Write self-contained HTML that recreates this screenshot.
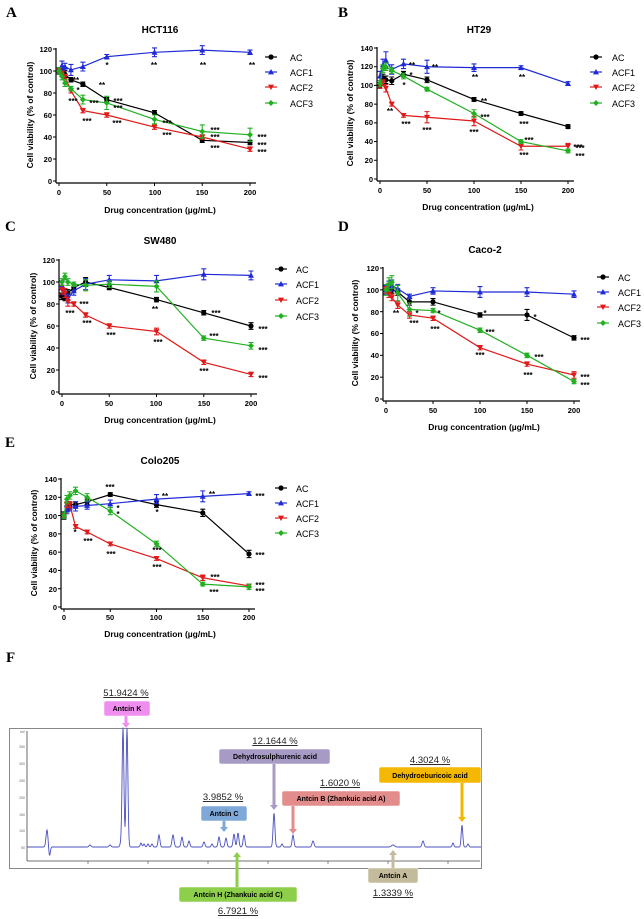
<!DOCTYPE html>
<html><head><meta charset="utf-8">
<style>
html,body{margin:0;padding:0;background:#fff;}
svg{display:block;font-family:"Liberation Sans",sans-serif;}
.t{font-weight:bold;font-size:10px;text-anchor:middle;}
.tk{font-weight:bold;font-size:7.5px;}
.ax{font-weight:bold;font-size:8.5px;text-anchor:middle;}
.lg{font-size:9px;}
.st{font-size:8px;font-weight:bold;}
.pl{font-family:"Liberation Serif",serif;font-weight:bold;font-size:15px;}
.bx{font-weight:bold;font-size:7px;text-anchor:middle;}
.pc{font-size:9.5px;text-anchor:middle;fill:#222;text-decoration:underline;}
</style></head><body>
<svg id="s" width="644" height="919" viewBox="0 0 644 919" xmlns="http://www.w3.org/2000/svg">
<g id="plots"></g>
<!-- panel letters -->
<text class="pl" x="6" y="17">A</text>
<text class="pl" x="338" y="17">B</text>
<text class="pl" x="5" y="231">C</text>
<text class="pl" x="338" y="231">D</text>
<text class="pl" x="5" y="447">E</text>
<text class="pl" x="6" y="662">F</text>
<!-- titles -->
<text class="t" x="160" y="33">HCT116</text>
<text class="t" x="479" y="33">HT29</text>
<text class="t" x="160" y="244">SW480</text>
<text class="t" x="485" y="253">Caco-2</text>
<text class="t" x="160" y="464">Colo205</text>
<!-- x labels -->
<text class="ax" x="160" y="213">Drug concentration (µg/mL)</text>
<text class="ax" x="478" y="210">Drug concentration (µg/mL)</text>
<text class="ax" x="160" y="423">Drug concentration (µg/mL)</text>
<text class="ax" x="484" y="430">Drug concentration (µg/mL)</text>
<text class="ax" x="160" y="637">Drug concentration (µg/mL)</text>
<!-- y labels -->
<text class="ax" transform="translate(33,115) rotate(-90)">Cell viability (% of control)</text>
<text class="ax" transform="translate(353,113) rotate(-90)">Cell viability (% of control)</text>
<text class="ax" transform="translate(36,326) rotate(-90)">Cell viability (% of control)</text>
<text class="ax" transform="translate(358,333) rotate(-90)">Cell viability (% of control)</text>
<text class="ax" transform="translate(37,543) rotate(-90)">Cell viability (% of control)</text>
<!-- tick labels A -->
<g class="tk" text-anchor="end">
<text x="52" y="184">0</text><text x="52" y="162">20</text><text x="52" y="140">40</text><text x="52" y="118">60</text><text x="52" y="96">80</text><text x="52" y="74">100</text><text x="52" y="52">120</text>
<text x="373" y="182">0</text><text x="373" y="163">20</text><text x="373" y="144">40</text><text x="373" y="125">60</text><text x="373" y="107">80</text><text x="373" y="88">100</text><text x="373" y="69">120</text><text x="373" y="51">140</text>
<text x="55" y="395">0</text><text x="55" y="373">20</text><text x="55" y="351">40</text><text x="55" y="329">60</text><text x="55" y="307">80</text><text x="55" y="285">100</text><text x="55" y="263">120</text>
<text x="379" y="402">0</text><text x="379" y="380">20</text><text x="379" y="358">40</text><text x="379" y="336">60</text><text x="379" y="315">80</text><text x="379" y="293">100</text><text x="379" y="271">120</text>
<text x="57" y="610">0</text><text x="57" y="592">20</text><text x="57" y="573">40</text><text x="57" y="555">60</text><text x="57" y="537">80</text><text x="57" y="519">100</text><text x="57" y="500">120</text><text x="57" y="482">140</text>
</g>
<g class="tk" text-anchor="middle">
<text x="59" y="195">0</text><text x="107" y="195">50</text><text x="155" y="195">100</text><text x="202" y="195">150</text><text x="250" y="195">200</text>
<text x="380" y="193">0</text><text x="427" y="193">50</text><text x="474" y="193">100</text><text x="521" y="193">150</text><text x="568" y="193">200</text>
<text x="62" y="406">0</text><text x="109" y="406">50</text><text x="156" y="406">100</text><text x="204" y="406">150</text><text x="251" y="406">200</text>
<text x="386" y="413">0</text><text x="433" y="413">50</text><text x="480" y="413">100</text><text x="527" y="413">150</text><text x="574" y="413">200</text>
<text x="64" y="620">0</text><text x="110" y="620">50</text><text x="156" y="620">100</text><text x="203" y="620">150</text><text x="249" y="620">200</text>
</g>
<!-- legends text -->
<g class="lg">
<text x="290" y="61">AC</text><text x="290" y="76">ACF1</text><text x="290" y="91">ACF2</text><text x="290" y="107">ACF3</text>
<text x="612" y="61">AC</text><text x="612" y="76">ACF1</text><text x="612" y="91">ACF2</text><text x="612" y="107">ACF3</text>
<text x="296" y="273">AC</text><text x="296" y="288">ACF1</text><text x="296" y="304">ACF2</text><text x="296" y="320">ACF3</text>
<text x="618" y="281">AC</text><text x="618" y="296">ACF1</text><text x="618" y="311">ACF2</text><text x="618" y="327">ACF3</text>
<text x="296" y="492">AC</text><text x="296" y="507">ACF1</text><text x="296" y="522">ACF2</text><text x="296" y="537">ACF3</text>
</g>
<!-- stars -->
<g class="st" text-anchor="middle">
<text x="107" y="68">*</text><text x="154" y="68">**</text><text x="203" y="68">**</text><text x="252" y="68">**</text>
<text x="102" y="88">**</text><text x="76" y="83">**</text><text x="78" y="93">*</text><text x="73" y="104">***</text><text x="94" y="106">***</text><text x="118" y="104">***</text><text x="118" y="111">***</text><text x="87" y="124">***</text><text x="117" y="126">***</text><text x="167" y="126">***</text><text x="167" y="138">***</text><text x="215" y="133">***</text><text x="215" y="140">***</text><text x="215" y="151">***</text><text x="262" y="140">***</text><text x="262" y="148">***</text><text x="262" y="155">***</text>
<text x="412" y="68">**</text><text x="435" y="70">**</text><text x="475" y="80">**</text><text x="522" y="80">**</text><text x="411" y="78">*</text><text x="404" y="88">*</text><text x="484" y="104">**</text><text x="390" y="114">**</text><text x="485" y="120">***</text><text x="406" y="127">***</text><text x="427" y="133">***</text><text x="474" y="135">***</text><text x="524" y="127">***</text><text x="529" y="143">***</text><text x="524" y="158">***</text><text x="578" y="150">***</text><text x="580" y="151">***</text><text x="580" y="159">***</text>
<text x="84" y="307">***</text><text x="70" y="316">***</text><text x="87" y="326">***</text><text x="111" y="338">***</text><text x="155" y="312">**</text><text x="158" y="345">***</text><text x="216" y="316">***</text><text x="214" y="339">***</text><text x="204" y="374">***</text><text x="263" y="332">***</text><text x="263" y="353">***</text><text x="263" y="381">***</text>
<text x="396" y="316">**</text><text x="417" y="316">*</text><text x="414" y="326">***</text><text x="439" y="316">*</text><text x="435" y="332">***</text><text x="485" y="316">*</text><text x="490" y="335">***</text><text x="480" y="358">***</text><text x="535" y="320">*</text><text x="539" y="360">***</text><text x="528" y="378">***</text><text x="585" y="343">***</text><text x="585" y="380">***</text><text x="585" y="388">***</text>
<text x="110" y="490">***</text><text x="165" y="499">**</text><text x="212" y="497">**</text><text x="260" y="499">***</text><text x="118" y="511">*</text><text x="118" y="517">*</text><text x="157" y="515">*</text><text x="75" y="535">*</text><text x="88" y="544">***</text><text x="111" y="557">***</text><text x="157" y="553">***</text><text x="157" y="570">***</text><text x="215" y="580">***</text><text x="214" y="595">***</text><text x="260" y="558">***</text><text x="260" y="588">***</text><text x="260" y="594">***</text>
</g>
<!-- chromatogram -->
<rect x="9.5" y="728.5" width="472" height="140" fill="none" stroke="#888" stroke-width="1"/>
<line x1="27" y1="731" x2="27" y2="861" stroke="#444" stroke-width="0.8"/>
<line x1="27" y1="861" x2="480" y2="861" stroke="#444" stroke-width="0.8"/>
<g id="chrom"></g>
<g font-size="3.5" fill="#666" text-anchor="end">
<text x="25" y="733">mV</text><text x="25" y="748">350</text><text x="25" y="765">300</text><text x="25" y="782">250</text><text x="25" y="799">200</text><text x="25" y="816">150</text><text x="25" y="832">100</text><text x="25" y="849">50</text>
</g>
<!-- percent labels -->
<text class="pc" x="126" y="696">51.9424 %</text>
<text class="pc" x="275" y="744">12.1644 %</text>
<text class="pc" x="223" y="800">3.9852 %</text>
<text class="pc" x="340" y="786">1.6020 %</text>
<text class="pc" x="430" y="763">4.3024 %</text>
<text class="pc" x="393" y="896">1.3339 %</text>
<text class="pc" x="238" y="914">6.7921 %</text>
<!-- boxes -->
<g id="boxes"></g>
<text class="bx" x="127" y="711">Antcin K</text>
<text class="bx" x="275" y="759">Dehydrosulphurenic acid</text>
<text class="bx" x="224" y="816">Antcin C</text>
<text class="bx" x="341" y="801">Antcin B (Zhankuic acid A)</text>
<text class="bx" x="430" y="778">Dehydroeburicoic acid</text>
<text class="bx" x="393" y="878">Antcin A</text>
<text class="bx" x="238" y="897">Antcin H (Zhankuic acid C)</text>
</svg>
<script>
var NS="http://www.w3.org/2000/svg";
function el(p,n,a){var e=document.createElementNS(NS,n);for(var k in a)e.setAttribute(k,a[k]);p.appendChild(e);return e;}
var G=document.getElementById('plots');
var X=[0,3.125,6.25,12.5,25,50,100,150,200];
var cols=['#000','#1f2bd6','#e01a1a','#22b022'];
var P=[
{x0:59,x1:250,y0:181,ym:120,yt:49,ax:56,ay:183,lx:265,ly:[57,72,87,103],
 d:[[100,100,97,92,88,74,62,37,35],[100,105,104,101,104,113,117,119,117],[100,98,95,82,64,60,49,40,29],[100,95,89,84,74,71,56,45,42]],
 e:[[2,2,3,2,2,2,2,2,2],[3,4,3,5,4,2,4,4,2],[2,2,2,2,2,2,2,2,2],[3,3,3,2,4,6,4,6,6]]},
{x0:380,x1:568,y0:179,ym:140,yt:48,ax:377,ay:181,lx:590,ly:[57,72,87,103],
 d:[[100,108,106,105,112,106,85,70,56],[110,122,127,117,123,120,119,119,102],[100,103,97,80,68,66,62,35,35],[102,118,120,116,110,96,70,40,30]],
 e:[[3,4,4,4,3,3,2,2,2],[5,6,9,5,5,7,4,2,2],[3,3,4,2,2,6,5,4,3],[3,4,4,3,3,2,4,2,2]]},
{x0:62,x1:251,y0:392,ym:120,yt:260,ax:59,ay:394,lx:275,ly:[269,284,300,316],
 d:[[87,86,90,95,100,95,84,72,60],[97,90,85,92,98,102,101,107,106],[93,90,82,80,70,60,55,27,16],[100,105,100,98,97,98,96,49,42]],
 e:[[3,3,3,3,4,2,2,2,3],[4,4,4,4,5,4,5,5,4],[4,4,4,2,2,2,3,2,2],[3,3,3,2,5,3,5,2,3]]},
{x0:386,x1:574,y0:399,ym:120,yt:268,ax:383,ay:401,lx:597,ly:[277,292,307,323],
 d:[[100,102,100,98,89,89,77,77,56],[100,103,104,101,94,99,98,98,96],[100,96,93,86,77,74,47,32,22],[100,105,107,97,82,81,63,40,16]],
 e:[[3,4,3,3,3,3,2,5,2],[4,5,5,4,2,3,5,4,3],[3,3,3,3,3,2,2,2,3],[5,6,6,7,6,2,2,2,2]]},
{x0:64,x1:249,y0:607,ym:140,yt:479,ax:61,ay:609,lx:275,ly:[488,503,518,533],
 d:[[100,110,112,112,115,123,112,103,58],[100,106,109,110,111,113,118,121,124],[100,112,112,88,82,69,53,32,23],[100,118,122,127,120,105,69,25,22]],
 e:[[4,4,3,3,3,2,3,4,4],[3,4,4,5,4,4,5,6,2],[2,3,3,2,2,2,2,3,2],[3,4,4,4,4,4,3,2,3]]}
];
function mk(g,t,x,y,c){var s=3;
 if(t==0)el(g,'circle',{cx:x,cy:y,r:2.6,fill:c});
 else if(t==1)el(g,'polygon',{points:(x)+','+(y-s)+' '+(x-s)+','+(y+s*0.8)+' '+(x+s)+','+(y+s*0.8),fill:c});
 else if(t==2)el(g,'polygon',{points:(x)+','+(y+s)+' '+(x-s)+','+(y-s*0.8)+' '+(x+s)+','+(y-s*0.8),fill:c});
 else el(g,'polygon',{points:x+','+(y-s)+' '+(x+s)+','+y+' '+x+','+(y+s)+' '+(x-s)+','+y,fill:c});}
P.forEach(function(p){
 var g=el(G,'g',{});
 var sx=function(v){return p.x0+(p.x1-p.x0)*v/200;};
 var sy=function(v){return p.y0-(p.y0-p.yt)*v/p.ym;};
 el(g,'line',{x1:p.ax,y1:p.yt-1,x2:p.ax,y2:p.ay,stroke:'#000','stroke-width':1.2});
 el(g,'line',{x1:p.ax,y1:p.ay,x2:p.x1+6,y2:p.ay,stroke:'#000','stroke-width':1.2});
 for(var v=0;v<=p.ym;v+=20){el(g,'line',{x1:p.ax-3,y1:sy(v),x2:p.ax,y2:sy(v),stroke:'#000','stroke-width':1});}
 for(var v=0;v<=200;v+=50){el(g,'line',{x1:sx(v),y1:p.ay,x2:sx(v),y2:p.ay+3,stroke:'#000','stroke-width':1});}
 for(var s=0;s<4;s++){
  var c=cols[s],pts=[];
  for(var i=0;i<9;i++)pts.push(sx(X[i])+','+sy(p.d[s][i]));
  el(g,'polyline',{points:pts.join(' '),fill:'none',stroke:c,'stroke-width':1.2});
  for(var i=0;i<9;i++){var x=sx(X[i]),y=sy(p.d[s][i]),e=(p.y0-p.yt)*p.e[s][i]/p.ym;
   el(g,'path',{d:'M'+x+','+(y-e)+'V'+(y+e)+'M'+(x-2.5)+','+(y-e)+'h5M'+(x-2.5)+','+(y+e)+'h5',stroke:c,'stroke-width':1.1,fill:'none'});
   mk(g,s,x,y,c);}
  el(g,'line',{x1:p.lx,y1:p.ly[s],x2:p.lx+12,y2:p.ly[s],stroke:c,'stroke-width':1.2});
  mk(g,s,p.lx+6,p.ly[s],c);
 }
});
// chromatogram
var C=document.getElementById('chrom');
var pk=[[90,2,1],[110,2,1],[121,4,1],[123,119,0.9],[127,119,0.9],[141,4,0.8],[144,3,0.8],[148,3,0.8],[152,3,0.8],[159,12,0.9],[173,12,1],[182,10,0.9],[189,6,0.9],[204,5,0.9],[212,3,0.8],[219,10,0.9],[226,9,0.9],[234,13,0.9],[238,14,0.9],[244,12,0.9],[274,34,0.9],[282,3,0.8],[293,12,0.9],[313,6,1],[393,2,1.5],[423,6,1],[453,4,0.8],[462,22,0.8],[468,3,0.8]];
var d='M27,847';
for(var x=27;x<=481;x+=0.4){var y=847;
 pk.forEach(function(q){y-=q[1]*Math.exp(-Math.pow((x-q[0])/q[2],2)/2);});
 y-=17*Math.exp(-Math.pow((x-47)/1,2)/2);y+=9*Math.exp(-Math.pow((x-49.5)/0.8,2)/2);
 d+='L'+x.toFixed(1)+','+y.toFixed(1);}
el(C,'path',{d:d,fill:'none',stroke:'#4a4fc0','stroke-width':0.9});
for(var x=88;x<481;x+=60)el(C,'line',{x1:x,y1:861,x2:x,y2:864,stroke:'#444','stroke-width':0.6});
// boxes & arrows
var B=document.getElementById('boxes');
function box(x1,y1,x2,y2,c){el(B,'rect',{x:x1,y:y1,width:x2-x1,height:y2-y1,rx:2,fill:c,stroke:'#fff','stroke-width':0.5});}
function arr(x,ya,yb,c){var dir=yb>ya?1:-1;
 el(B,'polygon',{points:[(x-1.5)+','+ya,(x+1.5)+','+ya,(x+1.5)+','+(yb-dir*5),(x+4)+','+(yb-dir*5),x+','+yb,(x-4)+','+(yb-dir*5),(x-1.5)+','+(yb-dir*5)].join(' '),fill:c});}
box(104,701,150,716,'#f08ef0');arr(126,716,728,'#f08ef0');
box(219,749,330,764,'#a79bc6');arr(274,764,810,'#a79bc6');
box(201,806,247,821,'#7ea8d8');arr(224,821,832,'#7ea8d8');
box(282,791,400,806,'#e38c8c');arr(293,806,834,'#e38c8c');
box(379,767,481,783,'#f5b800');arr(462,783,822,'#f5b800');
box(368,868,418,883,'#c4bb9c');arr(393,868,850,'#c4bb9c');
box(179,887,297,902,'#8dcf4a');arr(237,887,852,'#8dcf4a');
</script>
</body></html>
